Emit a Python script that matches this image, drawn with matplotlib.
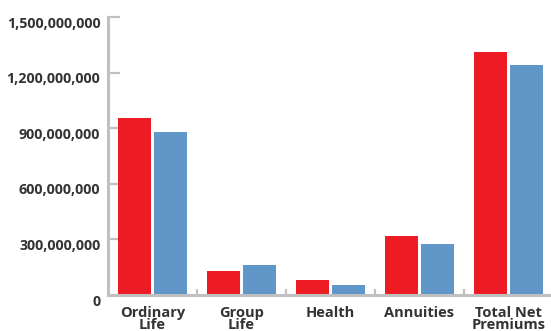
import matplotlib
matplotlib.use("Agg")
import matplotlib.pyplot as plt
import matplotlib.transforms as mtransforms
import numpy as np

categories = ["Ordinary\nLife", "Group\nLife", "Health", "Annuities", "Total Net\nPremiums"]
series_red = [953e6, 129e6, 80e6, 321e6, 1312e6]
series_blue = [879e6, 161e6, 54e6, 273e6, 1243e6]
yticks = [0, 300e6, 600e6, 900e6, 1200e6, 1500e6]
ytick_labels = ["0", "300,000,000", "600,000,000", "900,000,000", "1,200,000,000", "1,500,000,000"]

RED = "#ED1C24"
BLUE = "#6196C9"
AXIS = "#C0C0C0"
TEXT = "#333333"

plt.rcParams['font.family'] = ['Open Sans', 'DejaVu Sans']

W, H = 551, 331
fig = plt.figure(figsize=(W / 100, H / 100), dpi=100)
left, right, bottom, top = 108, 553, 295, 17
ax = fig.add_axes([left / W, (H - bottom) / H, (right - left) / W, (bottom - top) / H])

x = np.arange(len(categories))
bw = 0.37
gap = 0.034
ax.bar(x - bw / 2 - gap / 2, series_red, width=bw, color=RED, zorder=2)
ax.bar(x + bw / 2 + gap / 2, series_blue, width=bw, color=BLUE, zorder=2)

ax.set_xlim(-0.5, len(categories) - 0.5)
ax.set_ylim(0, 1500e6)

for s in ["top", "right"]:
    ax.spines[s].set_visible(False)
for s in ["left", "bottom"]:
    ax.spines[s].set_color(AXIS)
    ax.spines[s].set_linewidth(2.2)

ax.set_yticks(yticks)
ax.set_yticklabels(ytick_labels, fontsize=10.3, fontweight='bold', color=TEXT)
ax.tick_params(axis='y', direction='in', length=8.5, width=1.6, color=AXIS, pad=5.5)
off = mtransforms.ScaledTranslation(0, -5 / 100, fig.dpi_scale_trans)
for lab in ax.get_yticklabels():
    lab.set_transform(lab.get_transform() + off)

# minor ticks at category boundaries
ax.set_xticks(np.arange(len(categories) - 1) + 0.5, minor=True)
ax.tick_params(axis='x', which='minor', direction='in', length=4, width=1.6, color=AXIS)
ax.set_xticks(x)
ax.set_xticklabels(categories, fontsize=10.5, fontweight='bold', color=TEXT, linespacing=0.78)
ax.tick_params(axis='x', which='major', length=0, pad=8)

fig.savefig("out.png", dpi=100)
